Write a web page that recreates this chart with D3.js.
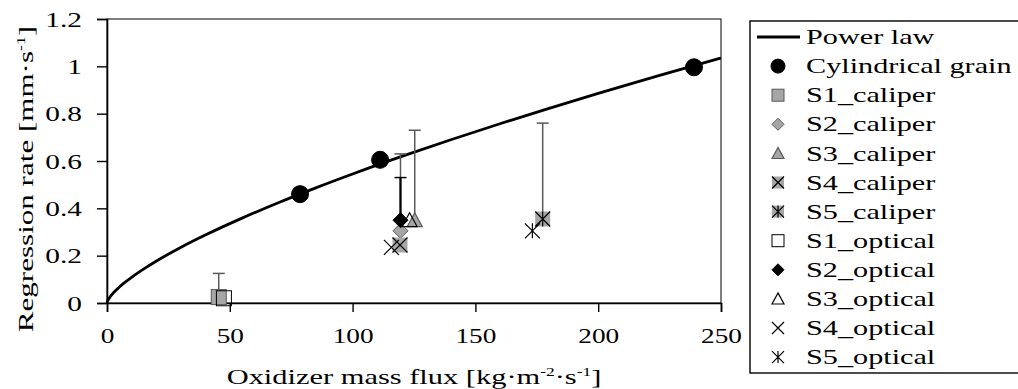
<!DOCTYPE html>
<html>
<head>
<meta charset="utf-8">
<script src="https://cdn.jsdelivr.net/npm/d3@7"></script>
<style>
  body { margin: 0; background: #fff; overflow: hidden; }
  svg text { font-family: "Liberation Serif", "Times New Roman", serif; fill: #000; }
</style>
</head>
<body>
<div id="chart"></div>
<script>
// ejes
const xTicks = [0, 50, 100, 150, 200, 250];
const yTicks = [0, 0.2, 0.4, 0.6, 0.8, 1, 1.2];

// ley de potencia r = a * G^n
const powerA = 0.0217;
const powerN = 0.7;
const powerG = [0, 0.25, 0.5, 1, 2, 4, 7, 10, 15, 20, 30, 40, 55, 70, 85, 100, 120, 140, 160, 180, 200, 225, 250];

// grano cilindrico
const cylG = [78.6, 111.2, 239];
const cylR = [0.46, 0.605, 0.996];

// caliper (G, r, error +)
const s1CaliperG = [45.5], s1CaliperR = [0.025], s1CaliperErr = [0.1];
const s2CaliperG = [119.5], s2CaliperR = [0.305], s2CaliperErr = [0.325];
const s3CaliperG = [125.3], s3CaliperR = [0.35], s3CaliperErr = [0.38];
const s4CaliperG = [119.3], s4CaliperR = [0.245], s4CaliperErr = [0];
const s5CaliperG = [177.4], s5CaliperR = [0.355], s5CaliperErr = [0.405];

// optical
const s1OpticalG = [47.6], s1OpticalR = [0.02], s1OpticalErr = [0];
const s2OpticalG = [119.5], s2OpticalR = [0.35], s2OpticalErr = [0.18];
const s3OpticalG = [123.2], s3OpticalR = [0.35], s3OpticalErr = [0];
const s4OpticalG = [115.8], s4OpticalR = [0.235], s4OpticalErr = [0];
const s5OpticalG = [173.2], s5OpticalR = [0.305], s5OpticalErr = [0];

const gray = '#a6a6a6';
const grayLine = '#595959';

// tabla de series (orden de la leyenda)
const series = [
  { name: 'Cylindrical grain', g: cylG, r: cylR, err: [], marker: 'circle', fill: '#000', stroke: '#000' },
  { name: 'S1_caliper', g: s1CaliperG, r: s1CaliperR, err: s1CaliperErr, marker: 'square', fill: gray, stroke: grayLine },
  { name: 'S2_caliper', g: s2CaliperG, r: s2CaliperR, err: s2CaliperErr, marker: 'diamond', fill: gray, stroke: grayLine },
  { name: 'S3_caliper', g: s3CaliperG, r: s3CaliperR, err: s3CaliperErr, marker: 'triangle', fill: gray, stroke: grayLine },
  { name: 'S4_caliper', g: s4CaliperG, r: s4CaliperR, err: s4CaliperErr, marker: 'squareX', fill: gray, stroke: '#000' },
  { name: 'S5_caliper', g: s5CaliperG, r: s5CaliperR, err: s5CaliperErr, marker: 'squareStar', fill: gray, stroke: '#000' },
  { name: 'S1_optical', g: s1OpticalG, r: s1OpticalR, err: s1OpticalErr, marker: 'square', fill: 'none', stroke: '#000' },
  { name: 'S2_optical', g: s2OpticalG, r: s2OpticalR, err: s2OpticalErr, marker: 'diamond', fill: '#000', stroke: '#000' },
  { name: 'S3_optical', g: s3OpticalG, r: s3OpticalR, err: s3OpticalErr, marker: 'triangle', fill: 'none', stroke: '#000' },
  { name: 'S4_optical', g: s4OpticalG, r: s4OpticalR, err: s4OpticalErr, marker: 'x', fill: 'none', stroke: '#000' },
  { name: 'S5_optical', g: s5OpticalG, r: s5OpticalR, err: s5OpticalErr, marker: 'star', fill: 'none', stroke: '#000' }
];

const svgWidth = 1018;
const svgHeight = 389;
const margin = { top: 19, left: 107, right: 297, bottom: 86 };
const width = svgWidth - margin.left - margin.right;
const height = svgHeight - margin.top - margin.bottom;

const svg = d3.select('#chart').append('svg')
  .attr('width', svgWidth)
  .attr('height', svgHeight);

const plot = svg.append('g')
  .attr('transform', `translate(${margin.left},${margin.top})`);

const xScale = d3.scaleLinear().domain([0, 250]).range([0, width]);
const yScale = d3.scaleLinear().domain([0, 1.2]).range([height, 0]);

// dibuja un marcador centrado en (0,0)
function drawMarker(g, type, s, fill, stroke) {
  const h = s / 2;
  if (type === 'circle') {
    g.append('circle').attr('r', h + 1).attr('fill', fill).attr('stroke', stroke);
  } else if (type === 'square' || type === 'squareX' || type === 'squareStar') {
    const isX = type !== 'square';
    g.append('rect').attr('x', -h).attr('y', -h).attr('width', s).attr('height', s)
      .attr('fill', fill).attr('stroke', isX ? 'none' : stroke).attr('stroke-width', 1);
    if (type === 'squareX') drawMarker(g, 'x', s, 'none', stroke);
    if (type === 'squareStar') drawMarker(g, 'star', s, 'none', stroke);
  } else if (type === 'diamond') {
    g.append('path').attr('d', `M0,${-h}L${h},0L0,${h}L${-h},0Z`)
      .attr('fill', fill).attr('stroke', stroke).attr('stroke-width', 1);
  } else if (type === 'triangle') {
    g.append('path').attr('d', `M0,${-h}L${h},${h * 0.85}L${-h},${h * 0.85}Z`)
      .attr('fill', fill).attr('stroke', stroke).attr('stroke-width', 1.2);
  } else if (type === 'x') {
    g.append('path').attr('d', `M${-h},${-h}L${h},${h}M${h},${-h}L${-h},${h}`)
      .attr('fill', 'none').attr('stroke', stroke).attr('stroke-width', 1.2);
  } else if (type === 'star') {
    g.append('path').attr('d', `M${-h},${-h}L${h},${h}M${h},${-h}L${-h},${h}M0,${-h}L0,${h}`)
      .attr('fill', 'none').attr('stroke', stroke).attr('stroke-width', 1.2);
  }
}

// ensancha el texto en horizontal (la fuente original es mas ancha que Liberation Serif)
function stretch(sel, k) {
  sel.each(function () {
    const t = d3.select(this);
    const x = +t.attr('x') || 0;
    const y = +t.attr('y') || 0;
    const prev = t.attr('transform') || '';
    t.attr('x', 0).attr('y', 0)
      .attr('transform', `${prev} translate(${x},${y}) scale(${k},1)`);
  });
}

// borde del area de trazado
plot.append('rect')
  .attr('width', width).attr('height', height)
  .attr('fill', 'none').attr('stroke', '#000').attr('stroke-width', 1);

// ejes
const xAxis = plot.append('g')
  .attr('transform', `translate(0,${height})`)
  .call(d3.axisBottom(xScale).tickValues(xTicks).tickSize(9).tickPadding(16).tickFormat(d => d));
const yAxis = plot.append('g')
  .call(d3.axisLeft(yScale).tickValues(yTicks).tickSize(10).tickPadding(15).tickFormat(d => d));

[xAxis, yAxis].forEach(ax => {
  ax.attr('font-family', null);
  ax.select('.domain').attr('stroke', '#000').attr('stroke-width', 1.6);
  ax.selectAll('.tick line').attr('stroke', '#000').attr('stroke-width', 1.4);
  ax.selectAll('.tick text').style('font-size', '21px').attr('fill', '#000');
});
yAxis.selectAll('.tick text').attr('dy', '0.34em');
stretch(xAxis.selectAll('.tick text'), 1.3);
stretch(yAxis.selectAll('.tick text'), 1.4);

// curva de la ley de potencia
const line = d3.line()
  .x(d => xScale(d))
  .y(d => yScale(powerA * Math.pow(d, powerN)))
  .curve(d3.curveMonotoneX);

plot.append('path')
  .datum(powerG)
  .attr('d', line)
  .attr('fill', 'none')
  .attr('stroke', '#000')
  .attr('stroke-width', 2.8);

// barras de error (solo +)
series.forEach(s => {
  s.err.forEach((e, i) => {
    if (!e) return;
    const x = xScale(s.g[i]);
    const y0 = yScale(s.r[i]);
    const y1 = yScale(s.r[i] + e);
    const isOptical = s.name.indexOf('optical') >= 0;
    const col = isOptical ? '#000' : grayLine;
    const w = isOptical ? 2.2 : 1.5;
    plot.append('line').attr('x1', x).attr('x2', x).attr('y1', y0).attr('y2', y1)
      .attr('stroke', col).attr('stroke-width', w);
    plot.append('line').attr('x1', x - 6).attr('x2', x + 6).attr('y1', y1).attr('y2', y1)
      .attr('stroke', col).attr('stroke-width', 1.5);
  });
});

// marcadores
series.forEach(s => {
  s.g.forEach((g, i) => {
    const m = plot.append('g')
      .attr('transform', `translate(${xScale(g)},${yScale(s.r[i])})`);
    drawMarker(m, s.marker, 15, s.fill, s.stroke);
  });
});

// titulos de ejes
const xTitle = svg.append('text')
  .attr('x', margin.left + width / 2)
  .attr('y', 384)
  .attr('text-anchor', 'middle')
  .style('font-size', '21px');
xTitle.append('tspan').text('Oxidizer mass flux [kg·m');
xTitle.append('tspan').attr('dy', -8).style('font-size', '12px').text('-2');
xTitle.append('tspan').attr('dy', 8).text('·s');
xTitle.append('tspan').attr('dy', -8).style('font-size', '12px').text('-1');
xTitle.append('tspan').attr('dy', 8).text(']');
stretch(xTitle, 1.45);

const yTitle = svg.append('text')
  .attr('transform', `translate(33,${margin.top + height / 2 + 18}) rotate(-90)`)
  .attr('text-anchor', 'middle')
  .style('font-size', '21px');
yTitle.append('tspan').text('Regression rate [mm·s');
yTitle.append('tspan').attr('dy', -8).style('font-size', '12px').text('-1');
yTitle.append('tspan').attr('dy', 8).text(']');
stretch(yTitle, 1.48);

// leyenda
const legend = svg.append('g');
legend.append('rect')
  .attr('x', 750).attr('y', 21)
  .attr('width', 320).attr('height', 352)
  .attr('fill', '#fff').attr('stroke', '#000').attr('stroke-width', 1.4);

const rowY = i => 37 + i * 29.1;
const legendNames = ['Power law'].concat(series.map(s => s.name));

legendNames.forEach((name, i) => {
  const y = rowY(i);
  if (i === 0) {
    legend.append('line').attr('x1', 757).attr('x2', 800).attr('y1', y).attr('y2', y)
      .attr('stroke', '#000').attr('stroke-width', 2.8);
  } else {
    const s = series[i - 1];
    const m = legend.append('g').attr('transform', `translate(778,${y})`);
    drawMarker(m, s.marker, 12, s.fill === 'none' ? '#fff' : s.fill, s.stroke);
  }
  legend.append('text')
    .attr('x', 806).attr('y', y)
    .attr('dy', '0.34em')
    .style('font-size', '21px')
    .text(name);
});
stretch(legend.selectAll('text'), 1.44);
</script>
</body>
</html>
